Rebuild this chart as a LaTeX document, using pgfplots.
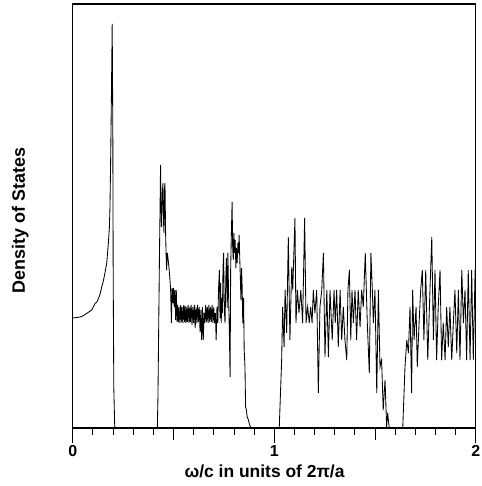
\documentclass[border=0pt]{standalone}
\usepackage{pgfplots}
\pgfplotsset{compat=1.18}
\usepackage{fontspec}
\setmainfont{Liberation Sans}
\newcommand{\lblfont}{\fontsize{17.5}{20}\selectfont\bfseries}
\newcommand{\tckfont}{\fontsize{16}{18}\selectfont\bfseries}
\begin{document}
\begin{tikzpicture}
\begin{axis}[
  scale only axis,
  width=403bp, height=424bp,
  xmin=0, xmax=2, ymin=0, ymax=424,
  axis line style={line width=1.1pt},
  xtick={0,0.5,1,1.5,2},
  xticklabels={0,,1,,2},
  minor x tick num=4,
  xtick pos=bottom,
  ytick=\empty,
  tick align=outside,
  major tick length=12bp,
  minor tick length=7bp,
  every tick/.style={black, line width=0.8pt},
  extra x ticks={0,1,2},
  extra x tick labels={},
  extra x tick style={major tick length=15bp},
  tick label style={font=\tckfont},
  xticklabel style={inner sep=1bp, yshift=-4.5bp},
  xlabel={ω/c in units of 2π/a},
  ylabel={Density of States},
  label style={font=\lblfont, inner sep=1bp},
  xlabel style={at={(axis description cs:0.476,-0.1175)}, anchor=base},
  ylabel style={at={(axis description cs:-0.1184,0.489)}, anchor=base, font=\fontsize{18}{20}\selectfont\bfseries},
  clip=true,
]
\addplot[black, line width=0.85pt] coordinates {
(0,110) (0.02,110.5) (0.036,111) (0.05,112) (0.069,114.5) (0.08,116) (0.094,118)
(0.102,121) (0.111,124.5) (0.120,126) (0.127,129) (0.136,134) (0.144,141) (0.152,147)
(0.160,155) (0.169,165) (0.177,185) (0.182,200) (0.185,221) (0.189,278) (0.192,330)
(0.196,404) (0.199,300) (0.201,150) (0.204,40) (0.208,5) (0.21,0)
(0.42,0)
(0.423,30) (0.427,105) (0.431,180) (0.433,211) (0.436,263) (0.439,215) (0.441,201)
(0.445,235) (0.448,245) (0.451,205) (0.453,195) (0.456,240) (0.458,245) (0.461,195)
(0.464,170) (0.466,158) (0.470,175) (0.474,168) (0.478,160) (0.482,150) (0.486,138)
(0.490,105) (0.493,140) (0.497,125) (0.500,140) (0.504,121) (0.507,138) (0.511,108)
(0.514,138) (0.518,106) (0.521,123) (0.525,106) (0.528,121) (0.532,105) (0.536,123)
(0.540,106) (0.543,121) (0.547,105) (0.551,123) (0.555,106) (0.558,122) (0.562,105)
(0.566,121) (0.569,106) (0.573,123) (0.577,105) (0.581,121) (0.584,106) (0.588,123)
(0.592,103) (0.596,121) (0.600,105) (0.604,123) (0.608,100) (0.612,121) (0.616,105)
(0.620,123) (0.624,106) (0.628,121) (0.632,96) (0.636,118) (0.640,88) (0.644,121)
(0.648,88) (0.652,115) (0.656,105) (0.660,123) (0.664,106) (0.668,121) (0.672,105)
(0.676,123) (0.680,106) (0.684,121) (0.688,106) (0.692,123) (0.696,105) (0.700,121)
(0.704,105) (0.708,115) (0.712,88) (0.716,121) (0.720,105) (0.724,140) (0.728,158)
(0.731,110) (0.734,145) (0.737,105) (0.740,130) (0.743,115) (0.746,160) (0.749,175)
(0.752,120) (0.756,105) (0.760,150) (0.763,170) (0.767,120) (0.770,175) (0.774,130)
(0.778,90) (0.781,51) (0.784,160) (0.787,190) (0.791,226) (0.794,180) (0.797,168)
(0.800,195) (0.803,175) (0.806,188) (0.810,160) (0.813,180) (0.816,165) (0.820,185)
(0.823,175) (0.826,193) (0.829,170) (0.832,150) (0.835,128) (0.838,160) (0.841,141)
(0.844,105) (0.848,130) (0.851,78) (0.855,61) (0.858,21) (0.862,18) (0.866,11)
(0.872,8) (0.878,3) (0.885,0)
(1.025,0)
(1.037,68) (1.042,121) (1.049,81) (1.054,138) (1.062,95) (1.070,191) (1.078,88)
(1.087,161) (1.092,138) (1.103,210) (1.108,105) (1.115,138) (1.123,115) (1.132,138)
(1.141,105) (1.151,210) (1.158,105) (1.166,121) (1.174,105) (1.181,121) (1.188,105)
(1.194,138) (1.202,115) (1.211,138) (1.219,35) (1.227,121) (1.236,138) (1.244,175)
(1.252,71) (1.261,138) (1.269,71) (1.277,138) (1.288,88) (1.297,138) (1.303,105)
(1.310,138) (1.318,81) (1.327,138) (1.335,88) (1.343,121) (1.351,88) (1.360,68)
(1.366,138) (1.373,158) (1.380,88) (1.386,138) (1.393,105) (1.401,138) (1.409,88)
(1.417,138) (1.426,101) (1.434,138) (1.442,121) (1.452,175) (1.462,105) (1.472,55)
(1.480,175) (1.487,138) (1.492,105) (1.500,138) (1.509,35) (1.517,138) (1.525,61)
(1.533,68) (1.541,18) (1.550,48) (1.558,1) (1.563,15) (1.571,0)
(1.638,0)
(1.649,61) (1.658,88) (1.666,75) (1.674,121) (1.682,35) (1.687,138) (1.694,88)
(1.704,121) (1.710,61) (1.719,105) (1.727,138) (1.735,158) (1.743,88) (1.752,158)
(1.762,68) (1.773,138) (1.782,191) (1.790,88) (1.798,158) (1.806,68) (1.814,121)
(1.823,158) (1.831,68) (1.839,105) (1.848,68) (1.856,121) (1.864,81) (1.872,121)
(1.881,68) (1.889,105) (1.897,138) (1.906,75) (1.914,138) (1.922,68) (1.931,158)
(1.939,105) (1.947,138) (1.955,68) (1.963,158) (1.972,68) (1.980,158) (1.988,68)
(1.997,158) (2.0,120)
};
\coordinate (bbll) at (rel axis cs:-0.1804,-0.1368);
\coordinate (bbur) at (rel axis cs:1.0132,1.00943);
\end{axis}
\pgfresetboundingbox
\useasboundingbox (bbll) rectangle (bbur);
\end{tikzpicture}
\end{document}
